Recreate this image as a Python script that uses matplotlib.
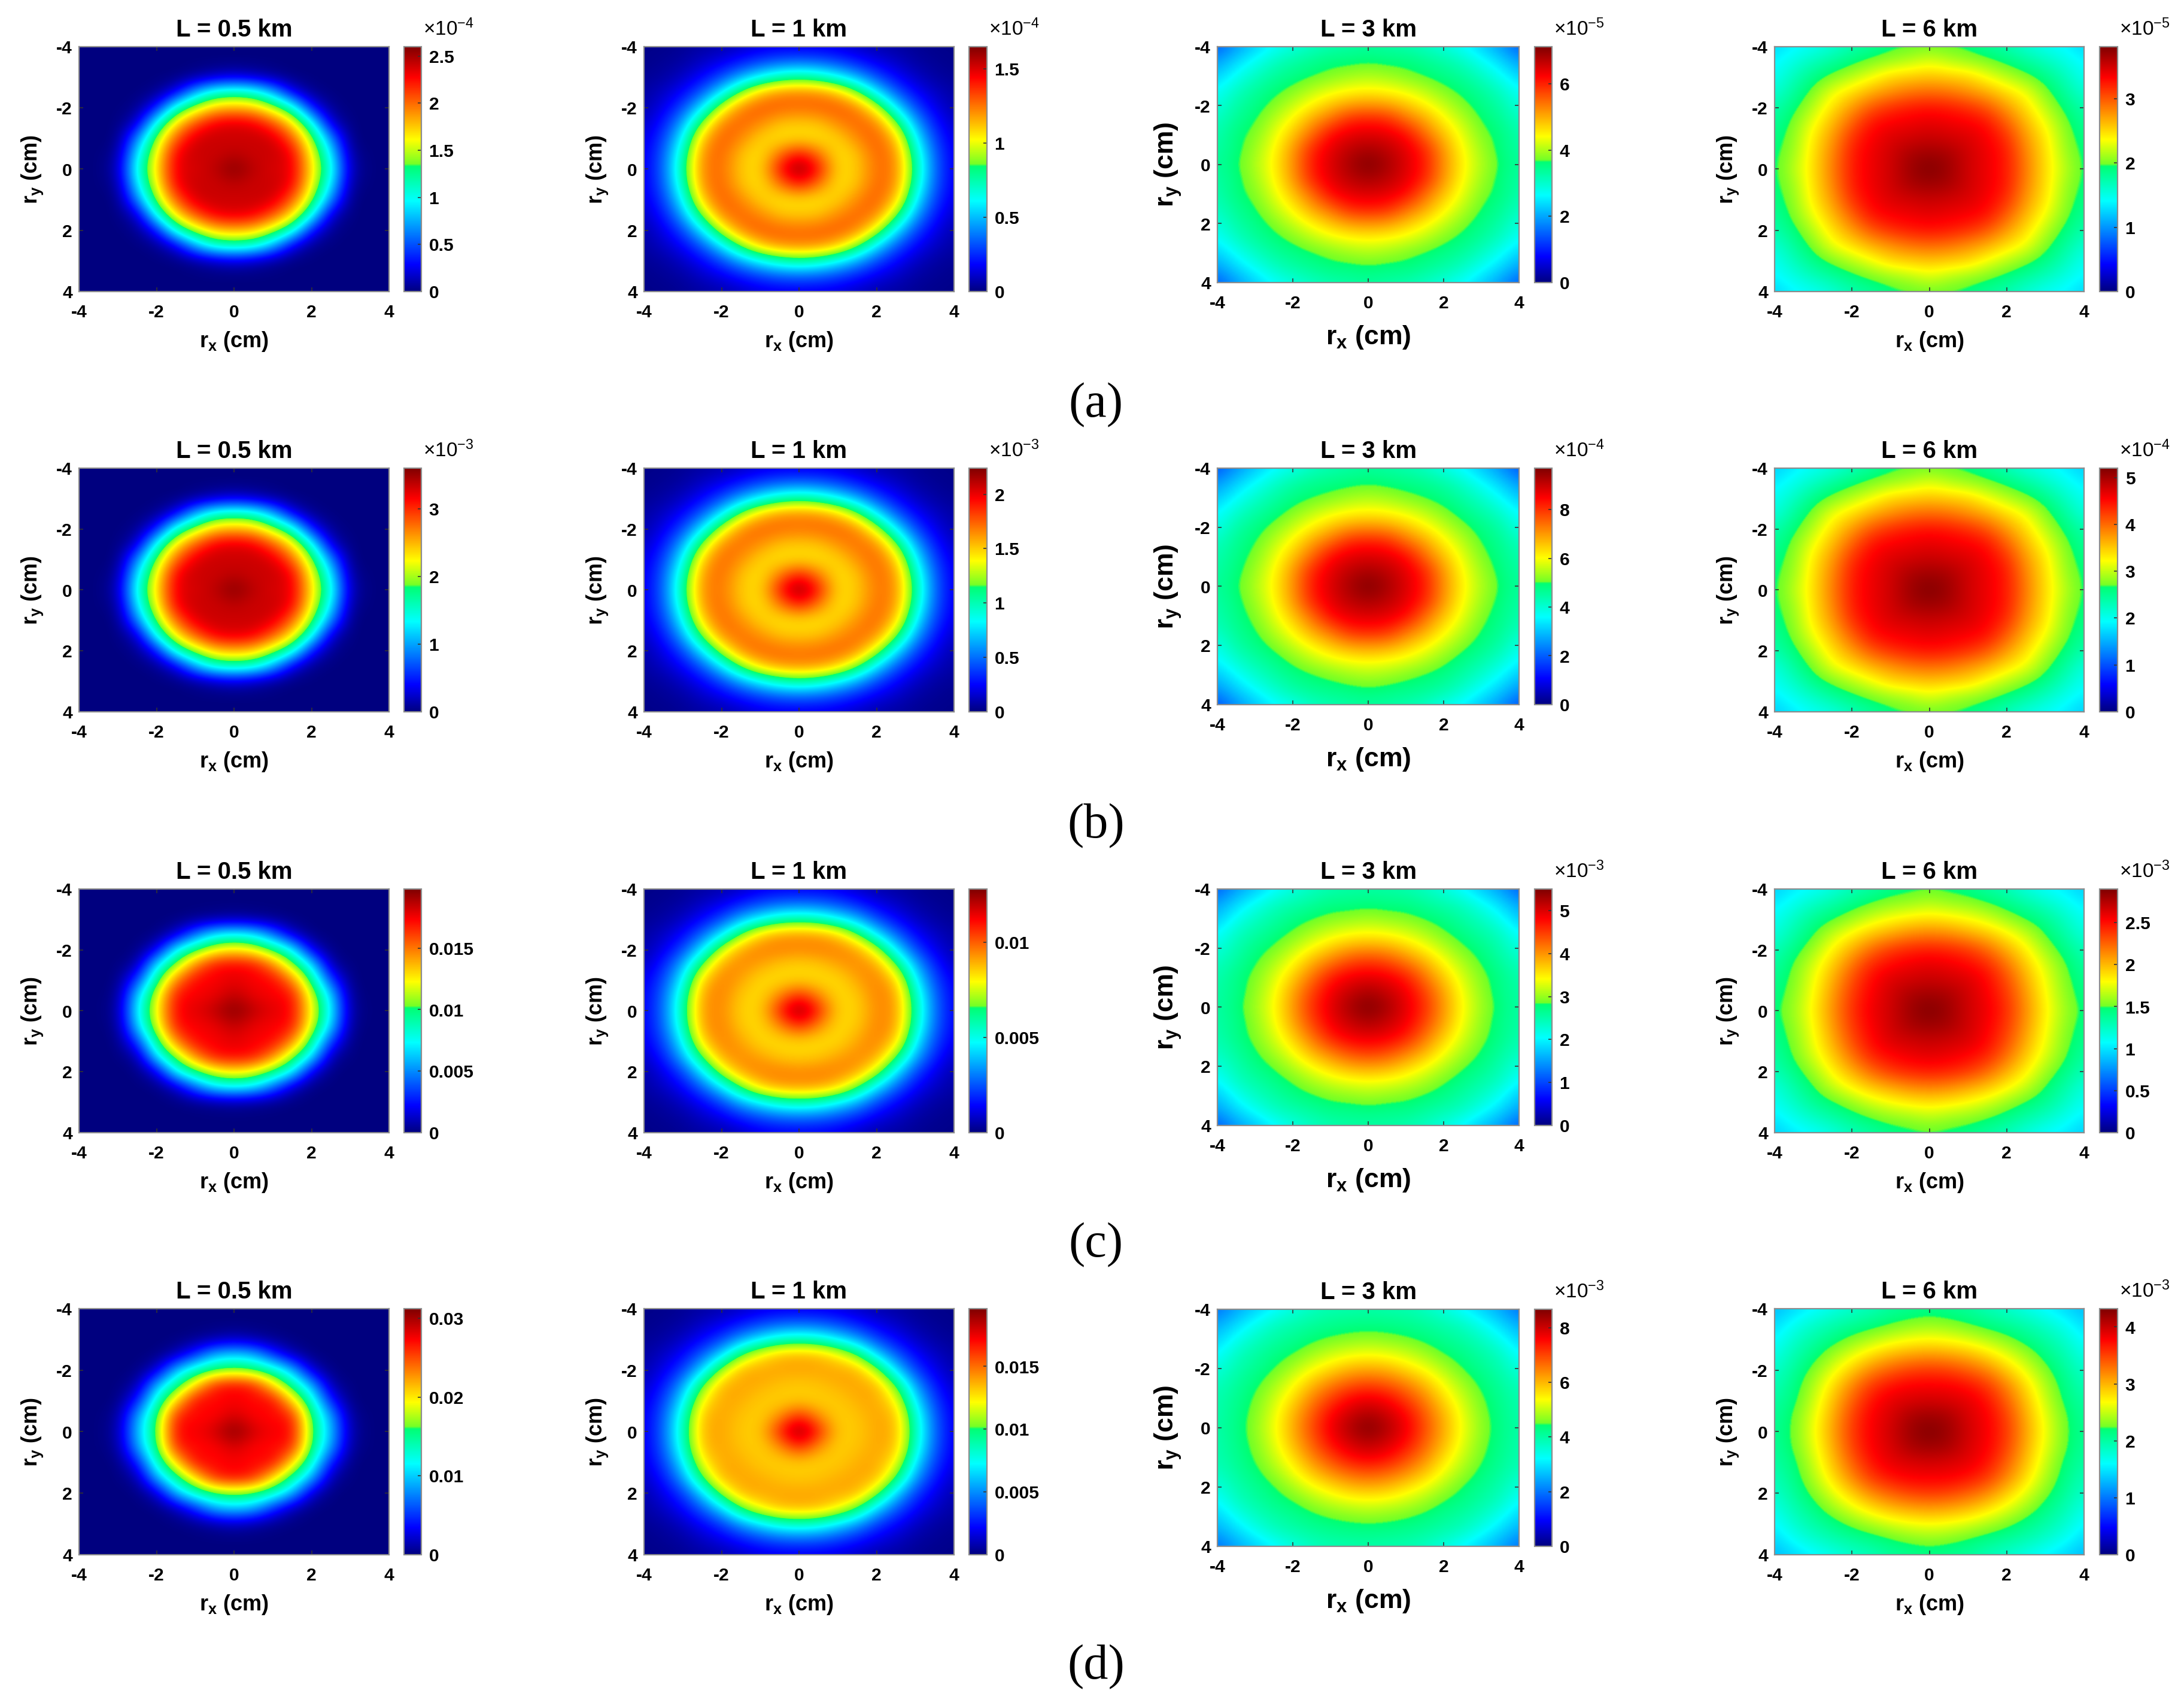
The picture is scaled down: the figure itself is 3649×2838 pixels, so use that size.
"""Grid of 16 intensity maps, 4 rows (a-d) by 4 propagation distances."""
import numpy as np
import matplotlib; matplotlib.use("Agg")
import matplotlib.pyplot as plt
from matplotlib.colors import LinearSegmentedColormap

plt.rcParams["font.family"] = ["Liberation Sans", "DejaVu Sans"]
plt.rcParams["mathtext.default"] = "regular"
plt.rcParams["axes.unicode_minus"] = False

W, H = 3649, 2838

# ---- data: one quadrant per map, % of colourbar top, sampled every 0.5 cm ----
# rows are |ry| = 0, 0.5 ... 4, columns are |rx| = 0, 0.5 ... 4
a_05 = [[100,94,91,90,65,40,4,0,0],[94,92,93,89,62,35,2,0,0],[92,93,92,79,55,24,0,0,0],
        [91,89,80,65,39,6,0,0,0],[70,68,57,42,12,1,0,0,0],[45,42,29,9,1,0,0,0,0],
        [7,5,2,0,0,0,0,0,0],[0]*9,[0]*9]
a_1 = [[100,86,65,67,77,75,47,21,9],[86,76,64,68,78,74,44,20,9],[65,64,66,74,79,68,37,17,8],
       [67,68,74,78,75,54,28,13,6],[77,78,79,75,59,35,18,9,4],[75,74,68,54,35,20,11,6,3],
       [47,44,37,28,18,11,6,3,2],[21,20,17,13,9,6,3,2,1],[9,9,8,6,4,3,2,1,1]]
a_3 = [[100,96,91,85,73,63,56,51,47],[96,94,90,84,72,62,55,50,46],[91,90,87,77,68,60,53,50,45],
       [85,84,77,71,63,57,51,48,43],[73,72,68,63,58,53,49,46,40],[63,62,60,57,53,50,47,43,37],
       [56,55,53,51,49,47,43,38,32],[51,50,50,48,46,43,38,33,27],[47,46,45,43,40,37,32,27,20]]
a_6 = [[100,97,92,89,85,75,65,57,50],[97,96,92,89,85,74,65,55,50],[93,92,91,88,83,72,64,54,49],
       [90,89,88,86,78,69,61,53,47],[86,85,83,79,72,65,57,50,45],[77,76,73,70,65,61,53,47,41],
       [68,67,66,61,57,53,49,44,38],[60,57,55,53,50,47,44,40,36],[52,51,50,47,45,41,38,36,33]]

b_05 = [[100,94,91,90,65,40,4,0,0],[94,92,93,89,62,35,2,0,0],[92,93,91,78,54,24,0,0,0],
        [91,89,79,64,39,6,0,0,0],[70,68,56,42,12,1,0,0,0],[45,42,29,9,1,0,0,0,0],
        [7,5,2,0,0,0,0,0,0],[0]*9,[0]*9]
b_1 = [[100,85,65,67,76,74,47,21,9],[85,75,64,68,77,73,44,20,9],[65,64,66,73,78,67,37,17,8],
       [67,68,73,77,74,54,28,13,6],[76,77,78,74,58,35,18,9,4],[74,73,67,54,35,20,11,6,3],
       [47,44,37,28,18,11,6,3,2],[21,20,17,13,9,6,3,2,1],[9,9,8,6,4,3,2,1,1]]
b_3 = [[100,96,91,85,73,63,56,51,47],[96,94,90,84,72,62,55,50,46],[91,90,87,77,68,60,53,49,45],
       [85,84,77,71,63,57,51,48,43],[73,72,68,63,58,53,49,46,39],[63,62,60,57,53,49,46,42,36],
       [56,55,53,51,49,46,42,37,31],[51,50,49,48,46,42,37,32,26],[47,46,45,43,39,36,31,26,19]]
b_6 = [[100,97,92,89,85,75,65,57,50],[97,96,92,89,85,74,65,55,50],[93,92,91,88,83,72,64,54,49],
       [90,89,88,86,78,69,61,53,47],[86,85,83,79,72,65,57,50,45],[77,76,73,70,65,61,53,47,40],
       [68,67,66,61,57,53,49,43,38],[60,57,55,53,50,47,43,39,35],[52,51,50,47,44,40,38,35,32]]

c_05 = [[100,94,90,88,62,36,2,0,0],[94,89,88,87,59,32,1,0,0],[90,88,88,75,48,17,0,0,0],
        [88,87,75,55,35,3,0,0,0],[65,61,50,37,8,0,0,0,0],[38,35,22,6,0,0,0,0,0],
        [3,2,1,0,0,0,0,0,0],[0]*9,[0]*9]
c_1 = [[100,84,66,66,74,73,46,22,10],[84,74,65,67,75,72,44,21,10],[66,65,65,71,75,67,37,18,9],
       [66,67,71,74,72,53,29,14,6],[74,75,75,72,58,35,18,9,4],[73,72,67,53,35,21,11,6,3],
       [46,44,37,29,18,11,6,3,2],[22,21,18,14,9,6,3,2,1],[10,10,9,6,4,3,2,1,1]]
c_3 = [[100,96,90,83,72,62,55,50,46],[96,93,89,81,71,61,54,49,46],[90,89,85,76,67,59,53,49,45],
       [83,81,76,70,62,56,51,47,43],[72,71,67,62,57,52,49,45,40],[62,61,59,56,52,49,46,43,36],
       [55,54,53,51,49,46,43,38,31],[50,49,49,47,45,43,38,33,27],[46,46,45,43,40,36,31,27,20]]
c_6 = [[100,97,92,89,83,73,63,55,50],[97,96,92,88,82,72,62,54,49],[93,92,91,87,80,70,61,53,48],
       [90,89,87,84,76,67,59,52,46],[85,84,82,77,70,63,55,49,44],[75,74,71,68,63,58,51,46,40],
       [65,64,62,59,55,51,48,43,38],[57,55,54,52,49,46,43,39,35],[51,50,49,46,44,40,37,35,32]]

d_05 = [[100,92,88,88,52,30,3,0,0],[92,87,87,85,50,27,2,0,0],[88,87,88,66,42,13,0,0,0],
        [88,85,66,47,29,3,0,0,0],[54,51,43,30,6,0,0,0,0],[32,29,15,4,0,0,0,0,0],
        [5,3,1,0,0,0,0,0,0],[0]*9,[0]*9]
d_1 = [[100,84,67,67,71,70,44,21,9],[84,73,66,68,71,69,42,20,9],[67,66,67,70,71,63,35,17,8],
       [67,68,70,71,70,52,27,13,6],[71,71,71,70,56,33,17,9,4],[70,69,63,52,33,20,11,6,3],
       [44,42,35,27,17,11,6,3,2],[21,20,17,13,9,6,3,2,1],[9,9,8,6,4,3,2,1,1]]
d_3 = [[100,95,89,80,70,61,54,49,46],[95,92,87,78,69,60,53,49,45],[89,87,81,74,65,58,52,48,45],
       [80,78,74,68,61,55,50,47,43],[70,69,65,61,56,51,48,45,40],[61,60,58,55,51,49,46,43,36],
       [54,53,52,50,48,46,43,38,32],[49,49,48,47,45,43,38,33,28],[46,45,45,43,40,36,32,28,22]]
d_6 = [[100,97,92,88,82,71,61,52,48],[97,96,91,88,81,70,60,52,47],[92,91,90,86,78,68,58,50,46],
       [88,88,86,82,74,65,56,49,44],[82,81,78,74,67,60,53,47,42],[72,71,69,65,60,55,49,45,39],
       [62,61,59,56,53,49,46,42,36],[54,53,51,49,47,45,42,38,33],[49,48,47,44,42,39,36,33,30]]

quadrants = [[a_05, a_1, a_3, a_6], [b_05, b_1, b_3, b_6], [c_05, c_1, c_3, c_6], [d_05, d_1, d_3, d_6]]

titles = ["L = 0.5 km", "L = 1 km", "L = 3 km", "L = 6 km"]
panel_labels = ["(a)", "(b)", "(c)", "(d)"]
axis_ticks = [-4, -2, 0, 2, 4]
axis_ticklabels = ["-4", "-2", "0", "2", "4"]

# colourbar top, in the units of the tick labels
cb_top = [[2.6, 1.65, 7.13, 3.81], [3.6, 2.24, 9.7, 5.2], [0.0198, 0.0128, 5.5, 2.9], [0.0312, 0.0196, 8.67, 4.32]]
cb_ticks = [
    [["0","0.5","1","1.5","2","2.5"], ["0","0.5","1","1.5"], ["0","2","4","6"], ["0","1","2","3"]],
    [["0","1","2","3"], ["0","0.5","1","1.5","2"], ["0","2","4","6","8"], ["0","1","2","3","4","5"]],
    [["0","0.005","0.01","0.015"], ["0","0.005","0.01"], ["0","1","2","3","4","5"], ["0","0.5","1","1.5","2","2.5"]],
    [["0","0.01","0.02","0.03"], ["0","0.005","0.01","0.015"], ["0","2","4","6","8"], ["0","1","2","3","4"]],
]
cb_exp = [[-4, -4, -5, -5], [-3, -3, -4, -4], [None, None, -3, -3], [None, None, -3, -3]]

# jet-like map of the reference, with its jump between spring green and yellow-green
cmap = LinearSegmentedColormap.from_list("jet_jump", [
    (0.0, (0, 0, 0.5)), (0.11, (0, 0, 1)), (0.37, (0, 1, 1)), (0.512, (0, 1, 0.45)),
    (0.52, (0.45, 1, 0.15)), (0.62, (1, 1, 0)), (0.875, (1, 0, 0)), (1.0, (0.5, 0, 0))], N=512)

# ---- layout in reference pixels ----
col_x = [(132, 650), (1076, 1594), (2034, 2538), (2965, 3482)]
cbar_x = [(675, 704), (1619, 1649), (2564, 2593), (3508, 3538)]
row_y = [(78, 487), (782, 1189), (1485, 1892), (2186, 2597)]
row_y_col3 = [(78, 472), (782, 1177), (1485, 1880), (2187, 2583)]
label_y = [677, 1380, 2080, 2785]
label_x = 1831
EDGE = "#8c8c8c"


def px_axes(fig, x0, x1, y0, y1):
    return fig.add_axes([x0 / W, 1 - y1 / H, (x1 - x0) / W, (y1 - y0) / H])


def mirror(q):
    q = np.array(q, float)
    full = np.vstack([q[:0:-1], q])
    return np.hstack([full[:, :0:-1], full])


fig = plt.figure(figsize=(36.491, 28.381), dpi=100)
for r in range(4):
    for c in range(4):
        y0, y1 = row_y_col3[r] if c == 2 else row_y[r]
        x0, x1 = col_x[c]
        ax = px_axes(fig, x0, x1, y0, y1)
        z = mirror(quadrants[r][c]) / 100 * cb_top[r][c]
        im = ax.imshow(z, cmap=cmap, vmin=0, vmax=cb_top[r][c], extent=(-4.25, 4.25, 4.25, -4.25),
                       aspect="auto", interpolation="bicubic")
        ax.set_xlim(-4, 4); ax.set_ylim(4, -4)
        ax.set_xticks(axis_ticks, axis_ticklabels); ax.set_yticks(axis_ticks, axis_ticklabels)
        ax.tick_params(direction="in", length=5, width=1.2, color="#333333", top=True, right=True,
                       labelsize=21.6)
        ax.tick_params(axis="x", pad=15); ax.tick_params(axis="y", pad=8)
        for t in ax.get_xticklabels() + ax.get_yticklabels():
            t.set_fontweight("bold")
        for s in ax.spines.values():
            s.set_edgecolor(EDGE); s.set_linewidth(1.6)
        ax.text(0.5, 1 + 9 / (y1 - y0), titles[c], transform=ax.transAxes, ha="center", va="bottom",
                fontsize=29, fontweight="bold")
        lab = 32 if c == 2 else 26
        ax.set_xlabel("r$_x$ (cm)", fontsize=lab, fontweight="bold")
        ax.set_ylabel("r$_y$ (cm)", fontsize=lab, fontweight="bold")
        ax.xaxis.set_label_coords(0.5, -(69 if c == 2 else 64) / (y1 - y0))
        ax.yaxis.set_label_coords(-57 / (x1 - x0), 0.5)

        cx0, cx1 = cbar_x[c]
        cax = px_axes(fig, cx0, cx1, y0, y1)
        cb = fig.colorbar(im, cax=cax)
        labels = cb_ticks[r][c]
        cb.set_ticks([float(v) for v in labels], labels=labels)
        cax.tick_params(direction="in", length=4, width=1.2, color="#333333", labelsize=21.6, pad=9)
        for t in cax.get_yticklabels():
            t.set_fontweight("bold")
        cb.outline.set_edgecolor(EDGE); cb.outline.set_linewidth(1.6)
        if cb_exp[r][c] is not None:
            fig.text((cx1 + 3) / W, 1 - (y0 - 12) / H, "×10$^{%d}$" % cb_exp[r][c], ha="left", va="bottom",
                     fontsize=24)

for r in range(4):
    fig.text(label_x / W, 1 - label_y[r] / H, panel_labels[r], ha="center", va="center", fontsize=59,
             family=["Liberation Serif", "DejaVu Serif"])

fig.savefig("out.png", dpi=100, facecolor="white")
